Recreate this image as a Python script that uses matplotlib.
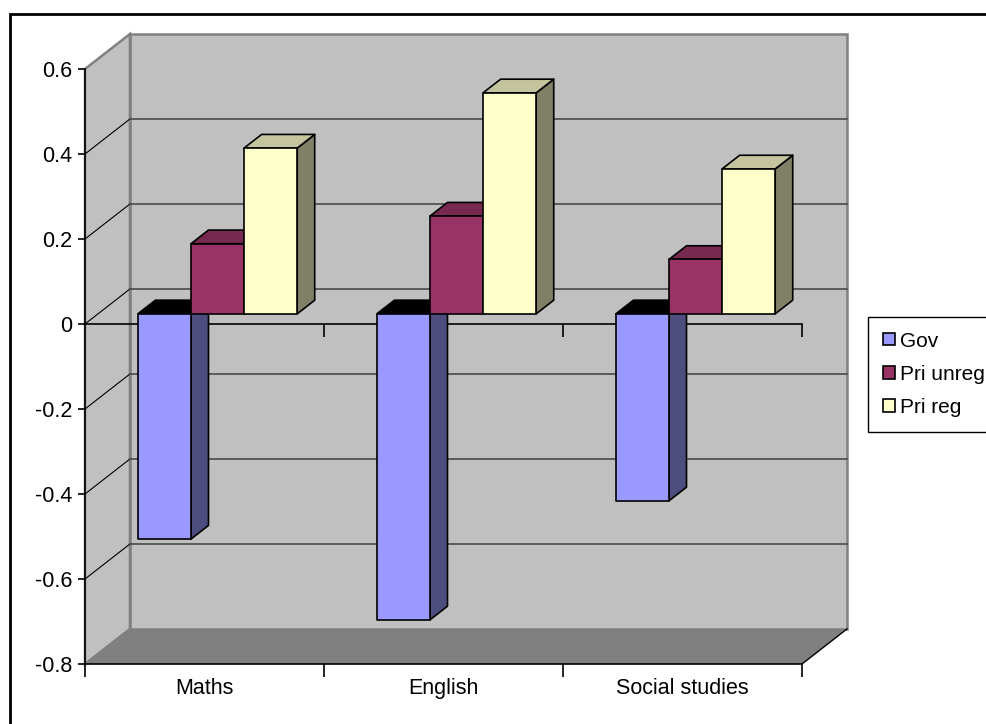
import matplotlib
matplotlib.use("Agg")
import matplotlib.pyplot as plt
from matplotlib.patches import Polygon, Rectangle, Patch
from matplotlib.markers import TICKDOWN

plt.rcParams['font.family'] = ['Liberation Sans', 'DejaVu Sans']

# data
subjects = ["Maths", "English", "Social studies"]
series_names = ["Gov", "Pri unreg", "Pri reg"]
gov = [-0.53, -0.72, -0.44]
pri_unreg = [0.165, 0.23, 0.128]
pri_reg = [0.39, 0.52, 0.341]
y_ticks = [-0.8, -0.6, -0.4, -0.2, 0, 0.2, 0.4, 0.6]

# face colours: front, top, side
front_colors = ["#9999FF", "#993366", "#FFFFCC"]
top_colors = ["#000000", "#77294F", "#C4C49E"]
side_colors = ["#4D4D80", "#4D1A33", "#808066"]

# oblique projection of the depth axis (in data units of the front plane)
DX, DY = 0.188, 0.0824
D0, D1 = 0.29, 0.68          # front and back of the bars along depth
GAP = 1.5                      # gap width relative to one bar
FONT = 15.5


def proj(x, v, d):
    return (x + d * DX, v + d * DY)


fig = plt.figure(figsize=(9.86, 7.24), dpi=100)
ax = fig.add_axes([85 / 986, 60 / 724, 717 / 986, 595 / 724])
ymin, ymax = y_ticks[0], y_ticks[-1]
ncat = len(subjects)
ax.set_xlim(0, ncat)
ax.set_ylim(ymin, ymax)
ax.set_facecolor("none")

# walls and floor
wall_kw = dict(closed=True, clip_on=False, zorder=0.5)
ax.add_patch(Polygon([proj(0, ymin, 1), proj(ncat, ymin, 1), proj(ncat, ymax, 1),
                      proj(0, ymax, 1)], facecolor="#C0C0C0", edgecolor="#808080",
                     lw=1.8, **wall_kw))
ax.add_patch(Polygon([proj(0, ymin, 0), proj(0, ymin, 1), proj(0, ymax, 1),
                      proj(0, ymax, 0)], facecolor="#C0C0C0", edgecolor="#808080",
                     lw=1.8, **wall_kw))
ax.add_patch(Polygon([proj(0, ymin, 0), proj(ncat, ymin, 0), proj(ncat, ymin, 1),
                      proj(0, ymin, 1)], facecolor="#808080", edgecolor="none",
                     **wall_kw))
fx, fy = zip(proj(ncat, ymin, 0), proj(ncat, ymin, 1))
ax.plot(fx, fy, color="black", lw=1, clip_on=False, zorder=0.8)

# gridlines across the left wall and the back wall
for v in y_ticks[1:-1]:
    lx, ly = zip(proj(0, v, 0), proj(0, v, 1))
    ax.plot(lx, ly, color="black", lw=0.8, clip_on=False, zorder=0.8)
    bx, by = zip(proj(0, v, 1), proj(ncat, v, 1))
    ax.plot(bx, by, color="#4A4A4A", lw=1.2, clip_on=False, zorder=0.8)
lx, ly = zip(proj(0, ymin, 0), proj(0, ymin, 1))
ax.plot(lx, ly, color="#808080", lw=1.2, clip_on=False, zorder=0.8)

# category axis at zero
ax.plot([0, ncat], [0, 0], color="black", lw=1.2, zorder=2, clip_on=False)
ax.plot(range(1, ncat + 1), [0] * ncat, ls="none", marker=TICKDOWN,
        markersize=9, mew=1.2, color="black", zorder=2, clip_on=False)

# bars
series = [gov, pri_unreg, pri_reg]
n = len(series)
w = 1 / (n + GAP)
for i in range(ncat):
    for j, vals in enumerate(series):
        v = vals[i]
        x0 = i + (GAP / 2 + j) * w
        x1 = x0 + w
        top = max(v, 0)
        z = 3 + i * n + j
        kw = dict(closed=True, edgecolor="black", lw=1.2, clip_on=False,
                  joinstyle="round", zorder=z)
        ax.add_patch(Polygon([proj(x1, 0, D0), proj(x1, v, D0), proj(x1, v, D1),
                              proj(x1, 0, D1)], facecolor=side_colors[j], **kw))
        ax.add_patch(Polygon([proj(x0, top, D0), proj(x1, top, D0), proj(x1, top, D1),
                              proj(x0, top, D1)], facecolor=top_colors[j], **kw))
        ax.add_patch(Polygon([proj(x0, 0, D0), proj(x1, 0, D0), proj(x1, v, D0),
                              proj(x0, v, D0)], facecolor=front_colors[j], **kw))

# axes styling
for side in ("top", "right"):
    ax.spines[side].set_visible(False)
ax.spines["left"].set_linewidth(1.2)
ax.spines["bottom"].set_linewidth(1.2)
ax.spines["left"].set_zorder(2)
ax.spines["bottom"].set_zorder(2)
ax.set_yticks(y_ticks)
ax.set_yticklabels([f"{t:g}" for t in y_ticks])
ax.tick_params(axis="y", length=5, width=1.2, labelsize=FONT, pad=4)
ax.set_xticks([i + 0.5 for i in range(ncat)])
ax.set_xticklabels(subjects)
ax.set_xticks(range(ncat + 1), minor=True)
ax.tick_params(axis="x", which="major", length=0, labelsize=FONT, pad=10)
ax.tick_params(axis="x", which="minor", length=9, width=1.2)

handles = [Patch(facecolor=c, edgecolor="black", lw=1.2) for c in front_colors]
fig.legend(handles, series_names, loc="upper left",
           bbox_to_anchor=(868 / 986, 1 - 317 / 724), fontsize=15,
           frameon=True, fancybox=False, edgecolor="black", framealpha=1,
           handlelength=0.6, handleheight=0.55, handletextpad=0.25,
           labelspacing=0.68, borderpad=0.7, borderaxespad=0)

# chart area border
fig.add_artist(Rectangle((10 / 986, -0.1), 1.2, 1 - 14 / 724 + 0.1,
                         transform=fig.transFigure, fill=False,
                         edgecolor="black", lw=2))

fig.savefig("out.png", dpi=100)
